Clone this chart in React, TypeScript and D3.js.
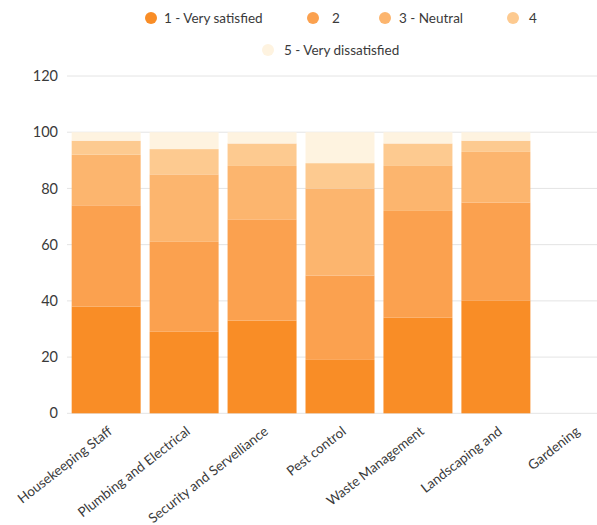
import React from "react";
import * as d3 from "d3";

const categories = [
  "Housekeeping Staff",
  "Plumbing and Electrical",
  "Security and Servelliance",
  "Pest control",
  "Waste Management",
  "Landscaping and",
  "Gardening",
];

const seriesNames = ["1 - Very satisfied", "2", "3 - Neutral", "4", "5 - Very dissatisfied"];

// Share of responses per rating level, one value per category
const verySatisfied = [38, 29, 33, 19, 34, 40, 0];
const rating2 = [36, 32, 36, 30, 38, 35, 0];
const neutral = [18, 24, 19, 31, 16, 18, 0];
const rating4 = [5, 9, 8, 9, 8, 4, 0];
const veryDissatisfied = [3, 6, 4, 11, 4, 3, 0];

const yTicks = [0, 20, 40, 60, 80, 100, 120];

const colors = ["#F98D26", "#FBA14F", "#FCB56E", "#FDCA90", "#FEF3E0"];

const W = 597;
const H = 525;
const FONT = "Lato, 'Open Sans', sans-serif";

export default function App() {
  const seriesValues = [verySatisfied, rating2, neutral, rating4, veryDissatisfied];
  const rows = categories.map((c, i) => {
    const r: Record<string, any> = { category: c };
    seriesNames.forEach((s, j) => (r[s] = seriesValues[j][i]));
    return r;
  });
  const stacked = d3.stack<any>().keys(seriesNames)(rows);

  const x = d3
    .scaleBand<string>()
    .domain(categories)
    .range([67, 613])
    .paddingInner(0.115)
    .paddingOuter(0.06);
  const y = d3.scaleLinear().domain([0, 120]).range([413.3, 76]);

  // legend layout: first four items on one row, the last centred below
  const legendRow1 = [
    { cx: 151, tx: 164 },
    { cx: 313, tx: 332 },
    { cx: 385, tx: 399 },
    { cx: 513, tx: 529 },
  ];
  const legendItems = seriesNames.map((name, i) =>
    i < 4
      ? { name, color: colors[i], cx: legendRow1[i].cx, tx: legendRow1[i].tx, cy: 18 }
      : { name, color: colors[i], cx: 268, tx: 284, cy: 50 }
  );

  return (
    <svg
      width={W}
      height={H}
      style={{ position: "absolute", left: 0, top: 0, background: "#fff" }}
      fontFamily={FONT}
    >
      {/* legend */}
      {legendItems.map((d) => (
        <g key={d.name}>
          <circle cx={d.cx} cy={d.cy} r={6} fill={d.color} />
          <text x={d.tx} y={d.cy} dy="0.35em" fontSize={13.5} fill="#3a3a3a">
            {d.name}
          </text>
        </g>
      ))}

      {/* gridlines and y tick labels */}
      {yTicks.map((t) => (
        <g key={t}>
          <line x1={67} x2={W} y1={y(t)} y2={y(t)} stroke="#e4e4e4" strokeWidth={1} />
          <text
            x={58}
            y={y(t)}
            dy="0.35em"
            textAnchor="end"
            fontSize={14.5}
            fill="#3a3a3a"
          >
            {t}
          </text>
        </g>
      ))}

      {/* stacked bars */}
      {stacked.map((layer, li) => (
        <g key={layer.key} fill={colors[li]}>
          {layer.map((seg, ci) => {
            const h = y(seg[0]) - y(seg[1]);
            if (h <= 0) return null;
            return (
              <rect
                key={ci}
                x={x(categories[ci])}
                y={y(seg[1])}
                width={x.bandwidth()}
                height={h}
              />
            );
          })}
        </g>
      ))}

      {/* category labels */}
      {categories.map((c) => {
        const cx = (x(c) as number) + x.bandwidth() / 2 + 7;
        return (
          <text
            key={c}
            transform={`translate(${cx},${433}) rotate(-38)`}
            textAnchor="end"
            fontSize={13.5}
            fill="#3a3a3a"
          >
            {c}
          </text>
        );
      })}
    </svg>
  );
}
